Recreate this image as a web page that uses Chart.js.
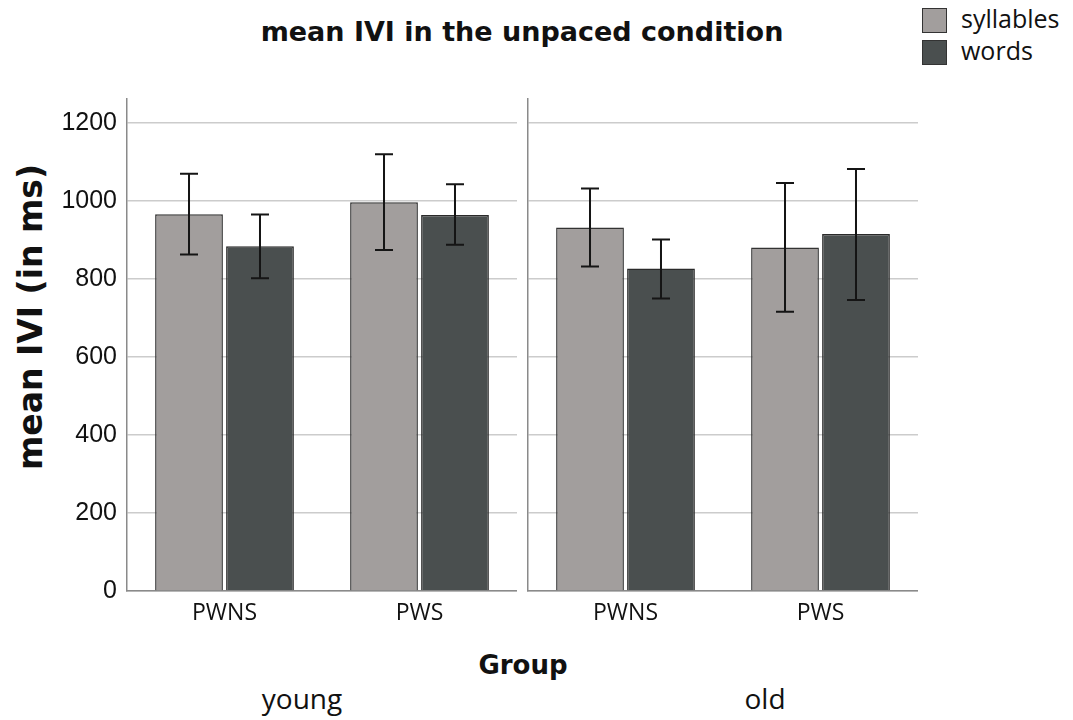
<!DOCTYPE html>
<html>
<head>
<meta charset="utf-8">
<script src="https://cdn.jsdelivr.net/npm/chart.js@4"></script>
<style>
  body { margin: 0; background: #fff; }
  #wrap { position: relative; width: 1073px; height: 720px; overflow: hidden; background: #fff; }
  canvas { position: absolute; }
  .txt { position: absolute; white-space: nowrap; color: #111; line-height: 1; }
  .bold { font-family: 'DejaVu Sans', sans-serif; font-weight: bold; }
  .reg { font-family: 'Open Sans', sans-serif; }
  .key { position: absolute; width: 23px; height: 23px; border: 1px solid #333; }
</style>
</head>
<body>
<div id="wrap">
  <div class="txt bold" id="title" style="font-size:27px; left:522px; top:18px; transform:translateX(-50%);">mean IVI in the unpaced condition</div>
  <div class="txt bold" id="ytitle" style="font-size:33px; left:30px; top:317px; transform:translate(-50%,-50%) rotate(-90deg);">mean IVI (in ms)</div>
  <div class="txt bold" id="xtitle" style="font-size:26px; left:523px; top:652px; transform:translateX(-50%);">Group</div>
  <div class="txt reg" style="font-size:28px; left:302px; top:684px; transform:translateX(-50%);">young</div>
  <div class="txt reg" style="font-size:28px; left:765px; top:684px; transform:translateX(-50%);">old</div>
  <div id="legend"></div>
  <canvas id="young" width="517" height="538" style="left:0; top:98px;"></canvas>
  <canvas id="old" width="391" height="538" style="left:527px; top:98px;"></canvas>
</div>
<script>
// values (ms)
var groups = ['PWNS', 'PWS'];
var seriesNames = ['syllables', 'words'];

var youngSyllables = [966, 997];
var youngSyllablesLow = [863, 874];
var youngSyllablesHigh = [1070, 1120];
var youngWords = [884, 964];
var youngWordsLow = [802, 888];
var youngWordsHigh = [965, 1043];

var oldSyllables = [932, 881];
var oldSyllablesLow = [832, 716];
var oldSyllablesHigh = [1032, 1046];
var oldWords = [827, 915];
var oldWordsLow = [750, 746];
var oldWordsHigh = [901, 1082];

var yTicks = [0, 200, 400, 600, 800, 1000, 1200];
var yMax = 1264;

var colSyl = '#a29e9d';
var colWords = '#4a4f4f';

// legend
var legend = document.getElementById('legend');
[colSyl, colWords].forEach(function(c, i){
    var box = document.createElement('div');
    box.className = 'key';
    box.style.left = '922px';
    box.style.top = (8 + i * 32) + 'px';
    box.style.background = c;
    legend.appendChild(box);
    var t = document.createElement('div');
    t.className = 'txt reg';
    t.style.fontSize = '25px';
    t.style.left = '961px';
    t.style.top = (6 + i * 32) + 'px';
    t.textContent = seriesNames[i];
    legend.appendChild(t);
});

// error bars drawn from the dataset's low/high arrays
var errorBars = {
    id: 'errorBars',
    afterDatasetsDraw: function(chart){
        var ctx = chart.ctx;
        var y = chart.scales.y;
        ctx.save();
        ctx.strokeStyle = '#151515';
        ctx.lineWidth = 2;
        chart.data.datasets.forEach(function(ds, di){
            var meta = chart.getDatasetMeta(di);
            meta.data.forEach(function(bar, i){
                var x = bar.x;
                var top = y.getPixelForValue(ds.high[i]);
                var bot = y.getPixelForValue(ds.low[i]);
                ctx.beginPath();
                ctx.moveTo(x, top); ctx.lineTo(x, bot);
                ctx.moveTo(x - 9, top); ctx.lineTo(x + 9, top);
                ctx.moveTo(x - 9, bot); ctx.lineTo(x + 9, bot);
                ctx.stroke();
            });
        });
        ctx.restore();
    }
};

function makeChart(id, syl, sylLow, sylHigh, wrd, wrdLow, wrdHigh, showY){
    var ctx = document.getElementById(id).getContext('2d');
    return new Chart(ctx, {
        type: 'bar',
        data: {
            labels: groups,
            datasets: [{
                label: seriesNames[0],
                data: syl, low: sylLow, high: sylHigh,
                backgroundColor: colSyl,
                borderColor: '#333',
                borderWidth: 1.5
            }, {
                label: seriesNames[1],
                data: wrd, low: wrdLow, high: wrdHigh,
                backgroundColor: colWords,
                borderColor: '#2a2a2a',
                borderWidth: 1.5
            }]
        },
        options: {
            responsive: false,
            animation: false,
            layout: { padding: 0 },
            categoryPercentage: 0.728,
            barPercentage: 0.955,
            plugins: {
                legend: { display: false },
                tooltip: { enabled: false }
            },
            scales: {
                x: {
                    grid: { display: false, drawTicks: false },
                    border: { display: true, color: '#8a8a8a', width: 1.5 },
                    ticks: {
                        padding: 9,
                        color: '#111',
                        font: { family: "'Liberation Sans Narrow', 'Open Sans', sans-serif", size: 23 }
                    },
                    afterFit: function(axis){
                        axis.height = 45;
                        axis.paddingLeft = 0;
                        axis.paddingRight = 0;
                    }
                },
                y: {
                    min: 0,
                    max: yMax,
                    afterBuildTicks: function(axis){
                        axis.ticks = yTicks.map(function(v){ return { value: v }; });
                    },
                    grid: { color: '#cccccc', lineWidth: 1.5, drawTicks: false },
                    border: { display: true, color: '#8a8a8a', width: 1.5 },
                    ticks: {
                        display: showY,
                        padding: 10,
                        color: '#111',
                        font: { family: "'Liberation Sans', sans-serif", size: 25 },
                        callback: function(v){ return String(v); }
                    },
                    afterFit: function(axis){
                        axis.width = showY ? 127 : 1;
                        axis.paddingTop = 0;
                        axis.paddingBottom = 0;
                    }
                }
            }
        },
        plugins: [errorBars]
    });
}

makeChart('young', youngSyllables, youngSyllablesLow, youngSyllablesHigh,
          youngWords, youngWordsLow, youngWordsHigh, true);
makeChart('old', oldSyllables, oldSyllablesLow, oldSyllablesHigh,
          oldWords, oldWordsLow, oldWordsHigh, false);
</script>
</body>
</html>
